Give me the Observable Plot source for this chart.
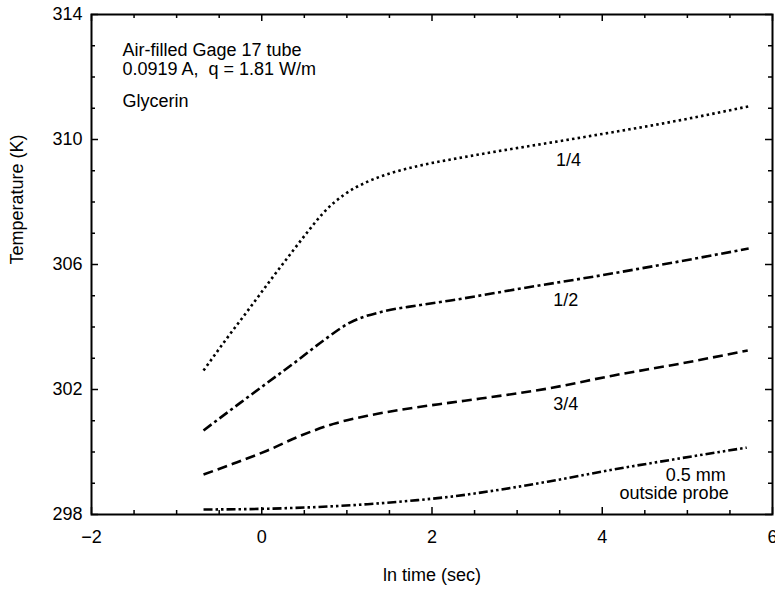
<!DOCTYPE html>
<html><head><meta charset="utf-8">
<script src="https://cdn.jsdelivr.net/npm/d3@7"></script>
<script src="https://cdn.jsdelivr.net/npm/@observablehq/plot@0.6"></script>
<style>body{margin:0;background:#fff} svg{display:block}</style>
</head><body><div id="chart"></div>
<script>
// Series (x = ln time in sec, y = temperature in K)
const seriesNames = ["1/4", "1/2", "3/4", "0.5 mm outside probe"];

const xQuarter = [-0.684, -0.425, -0.132, 0.103, 0.338, 0.538, 0.726, 0.961, 1.243, 1.513, 1.831, 2.219, 2.571, 3.746, 4.921, 5.72];
const yQuarter = [302.61, 303.58, 304.64, 305.50, 306.34, 307.04, 307.66, 308.22, 308.65, 308.92, 309.15, 309.36, 309.53, 310.06, 310.62, 311.06];

const xHalf = [-0.684, -0.249, 0.068, 0.421, 0.726, 1.043, 1.431, 1.831, 2.219, 3.041, 3.981, 5.72];
const yHalf = [300.69, 301.58, 302.22, 302.93, 303.57, 304.15, 304.50, 304.69, 304.85, 305.23, 305.65, 306.51];

const xThreeQuarter = [-0.684, -0.331, 0.068, 0.456, 0.844, 1.243, 1.631, 2.219, 2.571, 3.358, 4.134, 4.921, 5.709];
const yThreeQuarter = [299.28, 299.63, 300.05, 300.52, 300.90, 301.16, 301.35, 301.58, 301.71, 302.03, 302.45, 302.83, 303.25];

const xOutside = [-0.684, -0.014, 0.656, 1.243, 1.831, 2.219, 2.571, 3.358, 4.134, 4.921, 5.697];
const yOutside = [298.16, 298.18, 298.24, 298.33, 298.46, 298.57, 298.70, 299.05, 299.44, 299.80, 300.14];

// Axis ticks
const xMajorTicks = [-2, 0, 2, 4, 6];
const xMinorTicks = [-1.5, -1, -0.5, 0.5, 1, 1.5, 2.5, 3, 3.5, 4.5, 5, 5.5];
const yMajorTicks = [298, 302, 306, 310, 314];
const yMinorTicks = [299, 300, 301, 303, 304, 305, 307, 308, 309, 311, 312, 313];

// Text labels on curves
const midLabels = ["1/4", "1/2", "3/4"];
const midLabelX = [3.605, 3.57, 3.57];
const midLabelY = [309.33, 304.85, 301.54];
const endLabels = ["0.5 mm", "outside probe"];
const endLabelX = [5.45, 5.485];
const endLabelY = [299.27, 298.67];

// Note block
const noteLines = ["Air-filled Gage 17 tube", "0.0919 A,  q = 1.81 W/m", "Glycerin"];
const noteX = [-1.636, -1.636, -1.636];
const noteY = [312.87, 312.25, 311.22];

const xTitle = "ln time (sec)";
const yTitle = "Temperature (K)";

const toRows = (name, xs, ys) => xs.map((x, i) => ({series: name, x, y: ys[i]}));
const rows = [
  toRows(seriesNames[0], xQuarter, yQuarter),
  toRows(seriesNames[1], xHalf, yHalf),
  toRows(seriesNames[2], xThreeQuarter, yThreeQuarter),
  toRows(seriesNames[3], xOutside, yOutside)
];
const dashes = ["2.5,3.2", "10,3.5,3,3.5", "10,5", "9,3,2.5,3,2.5,3"];

const midRows = midLabels.map((t, i) => ({t, x: midLabelX[i], y: midLabelY[i]}));
const endRows = endLabels.map((t, i) => ({t, x: endLabelX[i], y: endLabelY[i]}));
const noteRows = noteLines.map((t, i) => ({t, x: noteX[i], y: noteY[i]}));

const font = "'Liberation Sans', Arial, Helvetica, sans-serif";
const FS = 18;
const tickW = 1.5;

const chart = Plot.plot({
  width: 775,
  height: 591,
  marginLeft: 91,
  marginRight: 3,
  marginTop: 14,
  marginBottom: 77,
  x: {domain: [-2, 6]},
  y: {domain: [298, 314]},
  style: {fontFamily: font, fontSize: FS + "px", color: "black", background: "white", overflow: "visible"},
  marks: [
    // inward ticks on all four sides
    Plot.ruleX(xMinorTicks, {x: d => d, y1: 298, y2: 298, insetTop: -4, stroke: "black", strokeWidth: tickW}),
    Plot.ruleX(xMajorTicks, {x: d => d, y1: 298, y2: 298, insetTop: -7, stroke: "black", strokeWidth: tickW}),
    Plot.ruleX(xMinorTicks, {x: d => d, y1: 314, y2: 314, insetBottom: -4, stroke: "black", strokeWidth: tickW}),
    Plot.ruleX(xMajorTicks, {x: d => d, y1: 314, y2: 314, insetBottom: -7, stroke: "black", strokeWidth: tickW}),
    Plot.ruleY(yMinorTicks, {y: d => d, x1: -2, x2: -2, insetRight: -4, stroke: "black", strokeWidth: tickW}),
    Plot.ruleY(yMajorTicks, {y: d => d, x1: -2, x2: -2, insetRight: -7, stroke: "black", strokeWidth: tickW}),
    Plot.ruleY(yMinorTicks, {y: d => d, x1: 6, x2: 6, insetLeft: -4, stroke: "black", strokeWidth: tickW}),
    Plot.ruleY(yMajorTicks, {y: d => d, x1: 6, x2: 6, insetLeft: -7, stroke: "black", strokeWidth: tickW}),
    // tick labels
    Plot.axisX(xMajorTicks, {anchor: "bottom", tickSize: 0, tickPadding: 16, label: null, fontSize: FS}),
    Plot.axisY(yMajorTicks, {anchor: "left", tickSize: 0, tickPadding: 9, label: null, fontSize: FS}),
    Plot.frame({stroke: "black", strokeWidth: 2}),
    ...rows.map((r, i) => Plot.line(r, {x: "x", y: "y", stroke: "black", strokeWidth: 2.6, strokeDasharray: dashes[i], strokeLinecap: "butt", curve: "monotone-x"})),
    Plot.text(midRows, {x: "x", y: "y", text: "t", textAnchor: "middle", fontSize: FS, fill: "black"}),
    Plot.text(endRows, {x: "x", y: "y", text: "t", textAnchor: "end", fontSize: FS, fill: "black"}),
    Plot.text(noteRows, {x: "x", y: "y", text: "t", textAnchor: "start", fontSize: FS, fill: "black"}),
    Plot.text([xTitle], {frameAnchor: "bottom", dy: 66, text: d => d, fontSize: FS, fill: "black"}),
    Plot.text([yTitle], {frameAnchor: "left", dx: -74, rotate: -90, text: d => d, fontSize: FS, fill: "black"})
  ]
});
document.getElementById("chart").append(chart);
</script>
</body></html>
